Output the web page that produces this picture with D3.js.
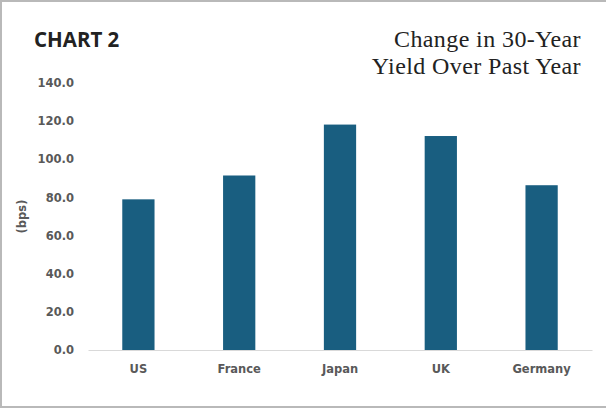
<!DOCTYPE html>
<html>
<head>
<meta charset="utf-8">
<script src="https://cdn.jsdelivr.net/npm/d3@7"></script>
<style>
  body { margin: 0; background: #fff; }
  svg { display: block; }
</style>
</head>
<body>
<div id="chart"></div>
<script>
// chart values
const countries = ["US", "France", "Japan", "UK", "Germany"];
const yieldChange = [79.0, 91.5, 118.2, 112.2, 86.4];
const yTicks = [0, 20, 40, 60, 80, 100, 120, 140];

const W = 606, H = 408;
const margin = { top: 83, right: 14, bottom: 58, left: 88 };
const width = W - margin.left - margin.right;
const height = H - margin.top - margin.bottom;

const labelFont = "'DejaVu Sans', Verdana, sans-serif";

const svg = d3.select("#chart")
    .append("svg")
    .attr("width", W)
    .attr("height", H);

// frame: top, left and bottom edges only
svg.append("path")
    .attr("d", `M${W},1 H1 V${H - 1} H${W}`)
    .attr("fill", "none")
    .attr("stroke", "#b9b9b9")
    .attr("stroke-width", 2);

svg.append("text")
    .attr("x", 34)
    .attr("y", 47)
    .style("font-family", "'Open Sans', sans-serif")
    .style("font-weight", "bold")
    .style("font-size", "20.5px")
    .style("fill", "#222")
    .text("CHART 2");

const title = svg.append("text")
    .attr("text-anchor", "end")
    .style("font-family", "'Liberation Serif', serif")
    .style("font-size", "24px")
    .style("letter-spacing", "0.4px")
    .style("fill", "#222");
title.append("tspan").attr("x", 581).attr("y", 47).text("Change in 30-Year");
title.append("tspan").attr("x", 581).attr("y", 74).text("Yield Over Past Year");

const g = svg.append("g")
    .attr("transform", `translate(${margin.left},${margin.top})`);

const x = d3.scaleBand()
    .domain(countries)
    .range([0, width])
    .paddingInner(0.68)
    .paddingOuter(0.34);

const y = d3.scaleLinear()
    .domain([0, 140])
    .range([height, 0]);

// y axis labels, no line
const yAxis = g.append("g")
    .call(d3.axisLeft(y).tickValues(yTicks).tickFormat(d3.format(".1f")).tickSize(0).tickPadding(14));
yAxis.select(".domain").remove();
yAxis.selectAll("text")
    .style("font-family", labelFont)
    .style("font-weight", "bold")
    .style("font-size", "11.5px")
    .style("fill", "#595959");

g.append("text")
    .attr("transform", "rotate(-90)")
    .attr("x", -y(70))
    .attr("y", -62)
    .attr("text-anchor", "middle")
    .style("font-family", labelFont)
    .style("font-weight", "bold")
    .style("font-size", "11.5px")
    .style("fill", "#595959")
    .text("(bps)");

g.selectAll("rect.bar")
    .data(countries.map((c, i) => ({ country: c, value: yieldChange[i] })))
    .enter()
    .append("rect")
    .attr("class", "bar")
    .attr("x", d => x(d.country))
    .attr("y", d => y(d.value))
    .attr("width", x.bandwidth())
    .attr("height", d => height - y(d.value))
    .attr("fill", "#195e80");

// x axis
const xAxis = g.append("g")
    .attr("transform", `translate(0,${height})`)
    .call(d3.axisBottom(x).tickSize(0).tickPadding(15));
xAxis.select(".domain")
    .attr("stroke", "#d9d9d9")
    .attr("stroke-width", 1.2);
xAxis.selectAll("text")
    .style("font-family", labelFont)
    .style("font-weight", "bold")
    .style("font-size", "11.5px")
    .style("fill", "#595959");
</script>
</body>
</html>
